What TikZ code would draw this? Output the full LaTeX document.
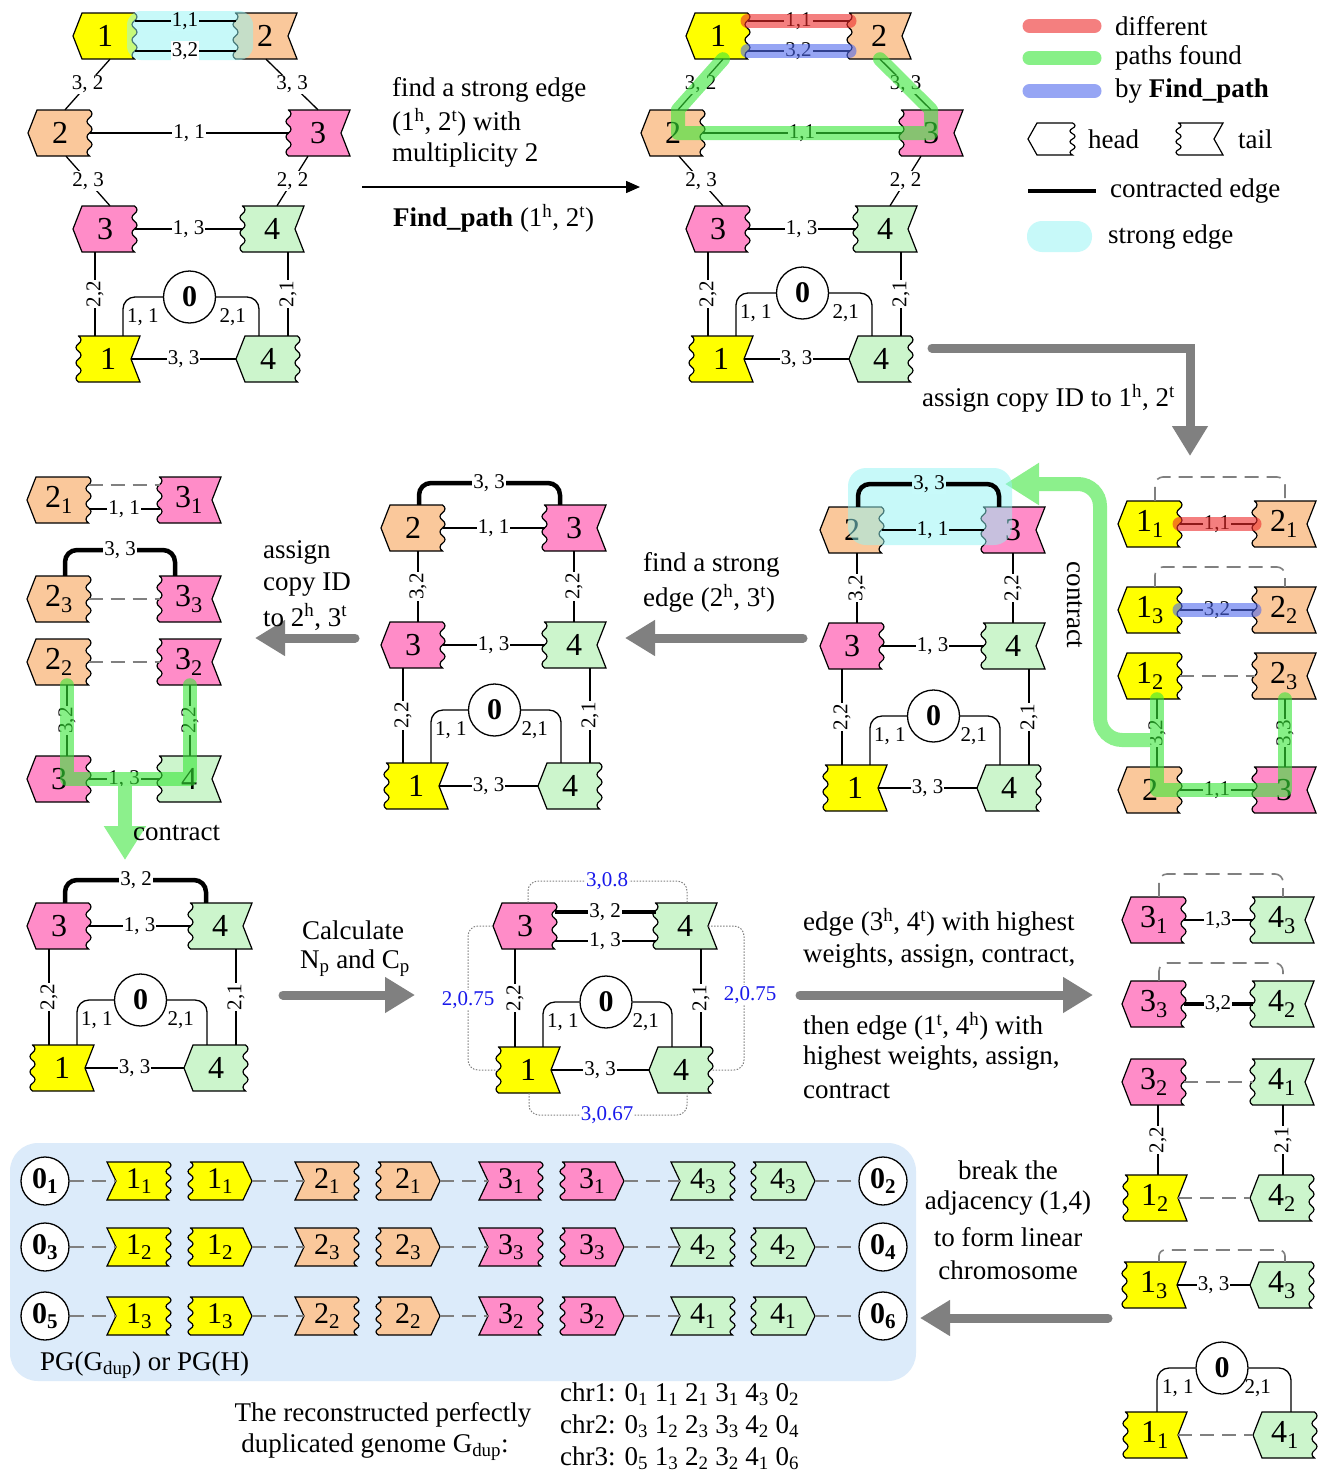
\documentclass[tikz,border=0pt]{standalone}
\usepackage{fontspec}
\setmainfont{Liberation Serif}
\usetikzlibrary{arrows.meta}
\definecolor{cyel}{RGB}{255,255,0}
\definecolor{cora}{RGB}{250,200,155}
\definecolor{cpink}{RGB}{255,140,200}
\definecolor{cgreen}{RGB}{204,245,204}
\definecolor{pgbg}{RGB}{220,235,250}
\definecolor{hred}{RGB}{238,43,43}
\definecolor{hgreen}{RGB}{55,230,55}
\definecolor{hblue}{RGB}{80,105,238}
\definecolor{hcyan}{RGB}{145,245,245}
\definecolor{cyanres}{RGB}{200,250,250}
\definecolor{dgrey}{RGB}{128,128,128}
\definecolor{agrey}{RGB}{128,128,128}
\definecolor{garr}{RGB}{140,240,140}
\definecolor{tblue}{RGB}{25,25,235}
\newcommand\nfont{\fontsize{32}{32}\selectfont}
\newcommand\pfont{\fontsize{30}{30}\selectfont}
\newcommand\efont{\fontsize{21}{21}\selectfont}
\newcommand\tfont{\fontsize{27}{27}\selectfont}
\newcommand\zfont{\fontsize{30}{30}\selectfont\bfseries}
\newcommand\mysub[1]{\textsubscript{#1}}
\newcommand\mysup[1]{\textsuperscript{#1}}
\def\GSd{9}\def\GSa{2.5}\def\GSc{3.3}
\def\GSwu{.. controls +(-\GSc,-\GSk) and +(-\GSc,\GSk) .. ++(0,-\GSs) .. controls +(\GSc,-\GSk) and +(\GSc,\GSk) .. ++(0,-\GSs) }
\def\GSwd{.. controls +(\GSc,\GSk) and +(\GSc,-\GSk) .. ++(0,\GSs) .. controls +(-\GSc,\GSk) and +(-\GSc,-\GSk) .. ++(0,\GSs) }
\newcommand\gshape[7]{%
 \pgfmathsetmacro\GSx{#1}\pgfmathsetmacro\GSy{#2}%
 \pgfmathsetmacro\GSW{#6}\pgfmathsetmacro\GSH{#7}%
 \pgfmathsetmacro\GSs{#7/3}\pgfmathsetmacro\GSk{#7/10}%
 \if#3p\pgfmathsetmacro\GSxa{\GSx-\GSW+\GSd}\pgfmathsetmacro\GSlx{\GSx-\GSW}\def\GSL{-- ++(-\GSd,-\GSH) -- ++(\GSd,-\GSH)}\fi
 \if#3n\pgfmathsetmacro\GSxa{\GSx-\GSW}\pgfmathsetmacro\GSlx{\GSx-\GSW+\GSd}\def\GSL{-- ++(\GSd,-\GSH) -- ++(-\GSd,-\GSH)}\fi
 \if#3w\pgfmathsetmacro\GSxa{\GSx-\GSW+\GSa}\pgfmathsetmacro\GSlx{\GSx-\GSW+\GSa}\def\GSL{\GSwu\GSwu\GSwu}\fi
 \if#4p\pgfmathsetmacro\GSxb{\GSx+\GSW-\GSd}\pgfmathsetmacro\GSrx{\GSx+\GSW}\def\GSR{-- ++(\GSd,\GSH) -- ++(-\GSd,\GSH)}\fi
 \if#4n\pgfmathsetmacro\GSxb{\GSx+\GSW}\pgfmathsetmacro\GSrx{\GSx+\GSW-\GSd}\def\GSR{-- ++(-\GSd,\GSH) -- ++(\GSd,\GSH)}\fi
 \if#4w\pgfmathsetmacro\GSxb{\GSx+\GSW-\GSa}\pgfmathsetmacro\GSrx{\GSx+\GSW-\GSa}\def\GSR{\GSwd\GSwd\GSwd}\fi
 \path[draw,line width=1.2pt,line join=miter,fill=#5] (\GSxa,\GSy-\GSH) -- (\GSxb,\GSy-\GSH) \GSR -- (\GSxa,\GSy+\GSH) \GSL -- cycle;%
}
\newcommand\gn[7]{%
 \gshape{#2}{#3}{#4}{#5}{#6}{32}{23}%
 \node[gtext,minimum width=64pt,minimum height=46pt] (#1) at (\GSx,\GSy) {#7};%
 \coordinate (#1-l) at (\GSlx,\GSy);%
 \coordinate (#1-r) at (\GSrx,\GSy);%
}
\newcommand\pgn[7]{%
 \gshape{#2}{#3}{#4}{#5}{#6}{32}{19}%
 \node[ptext,minimum width=64pt,minimum height=38pt] (#1) at (\GSx,\GSy) {#7};%
 \coordinate (#1-l) at (\GSlx,\GSy);%
 \coordinate (#1-r) at (\GSrx,\GSy);%
}
\newcommand\lowerg[7]{%
 \gn{#1-3}{#2}{#4}{p}{w}{cpink}{3}%
 \gn{#1-4}{#3}{#4}{w}{n}{cgreen}{4}%
 \gn{#1-1}{#2+3}{#5}{w}{n}{cyel}{1}%
 \gn{#1-4b}{#3-4}{#5}{p}{w}{cgreen}{4}%
 \node[zeronode] (#1-0) at ({(#2+#3)/2+1},#6) {0};%
 \draw[eln] ([yshift=#7]#1-3-r) -- node[elab]{1, 3} ([yshift=#7]#1-4-l);%
 \draw[eln] ([xshift=-10pt]#1-3.south) -- node[elab,rotate=90]{2,2} ([xshift=-13pt]#1-1.north);%
 \draw[eln] ([xshift=16pt]#1-4.south) -- node[elab,rotate=90]{2,1} ([xshift=20pt]#1-4b.north);%
 \draw[eln,rounded corners=12pt] (#1-0.west) -| ([xshift=15pt]#1-1.north);%
 \draw[eln,rounded corners=12pt] (#1-0.east) -| ([xshift=-9pt]#1-4b.north);%
 \node[elabp,anchor=north west] (#1-l11) at (#2+21,#6+10) {1, 1};%
 \node[elabp,anchor=north east] (#1-l21) at (#3-25,#6+10) {2,1};%
 \draw[eln] (#1-1-r) -- node[elab]{3, 3} (#1-4b-l);%
}
\newcommand\pgrow[8]{%
 \node[zeropg] (#1z0) at (45,#2) {0\mysub{#3}};%
 \pgn{#1t1}{139}{#2}{n}{w}{cyel}{1\mysub{#4}}%
 \pgn{#1h1}{220}{#2}{w}{p}{cyel}{1\mysub{#4}}%
 \pgn{#1t2}{327}{#2}{n}{w}{cora}{2\mysub{#5}}%
 \pgn{#1h2}{408}{#2}{w}{p}{cora}{2\mysub{#5}}%
 \pgn{#1t3}{511}{#2}{n}{w}{cpink}{3\mysub{#6}}%
 \pgn{#1h3}{592}{#2}{w}{p}{cpink}{3\mysub{#6}}%
 \pgn{#1t4}{703}{#2}{n}{w}{cgreen}{4\mysub{#7}}%
 \pgn{#1h4}{783}{#2}{w}{p}{cgreen}{4\mysub{#7}}%
 \node[zeropg] (#1z1) at (883,#2) {0\mysub{#8}};%
 \draw[gdash] (#1z0.east) -- (#1t1-l);%
 \draw[gdash] (#1h1-r) -- (#1t2-l);%
 \draw[gdash] (#1h2-r) -- (#1t3-l);%
 \draw[gdash] (#1h3-r) -- (#1t4-l);%
 \draw[gdash] (#1h4-r) -- (#1z1.west);%
}
\begin{document}
\begin{tikzpicture}[x=1pt,y=-1pt,
 eln/.style={line width=1.3pt},
 celn/.style={line width=4.5pt},
 elab/.style={fill=white,inner sep=1pt,font=\efont},
 elabp/.style={inner sep=1pt,font=\efont},
 blab/.style={fill=white,inner sep=1pt,font=\efont,text=tblue},
 gdash/.style={draw=dgrey,line width=1.6pt,dash pattern=on 14pt off 8pt},
 gdot/.style={draw=dgrey,line width=1pt,dash pattern=on 1.5pt off 1.5pt,rounded corners=10pt},
 hlr/.style={draw=hred,line width=14pt,line cap=round,line join=round,opacity=0.6},
 hlg/.style={draw=hgreen,line width=14pt,line cap=round,line join=round,opacity=0.6},
 hlb/.style={draw=hblue,line width=14pt,line cap=round,line join=round,opacity=0.6},
 cyanbox/.style={fill=hcyan,opacity=0.5},
 gtext/.style={inner sep=0pt,font=\nfont},
 ptext/.style={inner sep=0pt,font=\pfont},
 zeronode/.style={circle,draw,fill=white,line width=1.3pt,minimum size=52pt,inner sep=0pt,font=\zfont},
 zeropg/.style={circle,draw,fill=white,line width=1.3pt,minimum size=48pt,inner sep=0pt,font=\zfont},
 txt/.style={font=\tfont,inner sep=0pt,anchor=west},
 ctxt/.style={font=\tfont,inner sep=0pt},
 garrow/.style={draw=agrey,line width=9pt,line cap=round,line join=miter,-{Triangle[length=30pt,width=34pt]}},
 grarrow/.style={draw=garr,line width=14pt,rounded corners=22pt,-{Triangle[length=34pt,width=40pt]}},
 barrow/.style={draw=black,line width=1.5pt,-{Triangle[length=14pt,width=12pt]}},
]
\useasboundingbox (0,0) rectangle (1323,1476);
\fill[white] (0,0) rectangle (1323,1476);

% ================= Panel 1 =================
\gn{p1a}{105}{36}{p}{w}{cyel}{1}
\gn{p1b}{265}{36}{w}{n}{cora}{2}
\gn{p1c}{60}{133}{p}{w}{cora}{2}
\gn{p1d}{318}{133}{w}{n}{cpink}{3}
\lowerg{p1}{105}{272}{229}{359}{297}{0pt}
\fill[cyanbox,rounded corners=14pt] (127,11) rectangle (253,60);
\draw[eln] ([yshift=15pt]p1a-r) -- node[elab,fill=cyanres]{1,1} ([yshift=15pt]p1b-l);
\draw[eln] ([yshift=-15pt]p1a-r) -- node[elab]{3,2} ([yshift=-15pt]p1b-l);
\draw[eln] ([xshift=5pt]p1a.south) -- node[elab]{3, 2} ([xshift=5pt]p1c.north);
\draw[eln] ([xshift=1pt]p1b.south) -- node[elab]{3, 3} (p1d.north);
\draw[eln] (p1c-r) -- node[elab]{1, 1} (p1d-l);
\draw[eln] ([xshift=6pt]p1c.south) -- node[elab]{2, 3} ([xshift=5pt]p1-3.north);
\draw[eln] ([xshift=-10pt]p1d.south) -- node[elab]{2, 2} ([xshift=5pt]p1-4.north);

% ================= Panel 2 =================
\gn{p2a}{718}{36}{p}{w}{cyel}{1}
\gn{p2b}{879}{36}{w}{n}{cora}{2}
\gn{p2c}{673}{133}{p}{w}{cora}{2}
\gn{p2d}{931}{133}{w}{n}{cpink}{3}
\lowerg{p2}{718}{885}{229}{359}{293}{0pt}
\draw[eln] ([yshift=15pt]p2a-r) -- node[elab]{1,1} ([yshift=15pt]p2b-l);
\draw[eln] ([yshift=-15pt]p2a-r) -- node[elab]{3,2} ([yshift=-15pt]p2b-l);
\draw[eln] ([xshift=5pt]p2a.south) -- node[elab]{3, 2} ([xshift=5pt]p2c.north);
\draw[eln] ([xshift=1pt]p2b.south) -- node[elab]{3, 3} (p2d.north);
\draw[eln] (p2c-r) -- node[elab]{1,1} (p2d-l);
\draw[eln] ([xshift=6pt]p2c.south) -- node[elab]{2, 3} ([xshift=5pt]p2-3.north);
\draw[eln] ([xshift=-10pt]p2d.south) -- node[elab]{2, 2} ([xshift=5pt]p2-4.north);
\draw[hlr] ([yshift=15pt]p2a-r) -- ([yshift=15pt]p2b-l);
\draw[hlb] ([yshift=-15pt]p2a-r) -- ([yshift=-15pt]p2b-l);
\draw[hlg] ([xshift=5pt]p2a.south) -- ([xshift=5pt]p2c.north) -- ([xshift=5pt]p2c.center) -- (p2d.center) -- (p2d.north) -- ([xshift=1pt]p2b.south);

% ================= Legend =================
\draw[hlr] (1029.5,26) -- (1094.5,26);
\draw[hlg] (1029.5,58) -- (1094.5,58);
\draw[hlb] (1029.5,91) -- (1094.5,91);
\node[txt] (lg1) at (1115,26) {different};
\node[txt] (lg2) at (1115,58) {paths found};
\node[txt] (lg3) at (1115,91) {by \textbf{Find\_path}};
\gshape{1051.5}{139}{p}{w}{white}{23.5}{16}
\node[txt] (lg4) at (1088,139) {head};
\gshape{1199.5}{139}{w}{n}{white}{23.5}{16}
\node[txt] (lg5) at (1238,139) {tail};
\draw[line width=4.5pt] (1028,191) -- (1096,191);
\node[txt] (lg6) at (1110,191) {contracted edge};
\fill[cyanbox,rounded corners=15pt] (1027,221) rectangle (1092,252);
\node[txt] (lg7) at (1108,237) {strong edge};

% ================= Top text and arrows =================
\node[txt] (tt1) at (392,90) {find a strong edge};
\node[txt] (tt2) at (392,122) {(1\mysup{h}, 2\mysup{t}) with};
\node[txt] (tt3) at (392,155) {multiplicity 2};
\node[txt] (tt4) at (393,218) {\textbf{Find\_path} (1\mysup{h}, 2\mysup{t})};
\coordinate (ba1s) at (362,187);
\coordinate (ba1e) at (640,187);
\draw[barrow] (ba1s) -- (ba1e);
\coordinate (a1s) at (932,348);
\coordinate (a1e) at (1190,456);
\draw[garrow] (a1s) -| (a1e);
\node[txt] (ta1) at (922,398) {assign copy ID to 1\mysup{h}, 2\mysup{t}};

% ================= Row 2 right (d) =================
\gn{r2d1}{1150}{524}{p}{w}{cyel}{1\mysub{1}}
\gn{r2d2}{1284}{524}{w}{n}{cora}{2\mysub{1}}
\gn{r2d3}{1150}{610}{p}{w}{cyel}{1\mysub{3}}
\gn{r2d4}{1284}{610}{w}{n}{cora}{2\mysub{2}}
\gn{r2d5}{1150}{676}{p}{w}{cyel}{1\mysub{2}}
\gn{r2d6}{1284}{676}{w}{n}{cora}{2\mysub{3}}
\gn{r2d7}{1150}{790}{p}{w}{cora}{2}
\gn{r2d8}{1284}{790}{w}{n}{cpink}{3}
\coordinate (r2dA) at (1220,477);
\draw[gdash,rounded corners=8pt] ([xshift=5pt]r2d1.north) |- (r2dA) -| ([xshift=1pt]r2d2.north);
\draw[eln] (r2d1-r) -- node[elab]{1,1} (r2d2-l);
\coordinate (r2dB) at (1220,567);
\draw[gdash,rounded corners=8pt] ([xshift=5pt]r2d3.north) |- (r2dB) -| ([xshift=1pt]r2d4.north);
\draw[eln] (r2d3-r) -- node[elab]{3,2} (r2d4-l);
\draw[gdash] (r2d5-r) -- (r2d6-l);
\draw[eln] ([xshift=7pt]r2d5.south) -- node[elab,rotate=90]{3,2} ([xshift=7pt]r2d7.north);
\draw[eln] ([xshift=1pt]r2d6.south) -- node[elab,rotate=90]{3,3} ([xshift=1pt]r2d8.north);
\draw[eln] (r2d7-r) -- node[elab]{1,1} (r2d8-l);
\draw[hlr] (r2d1-r) -- (r2d2-l);
\draw[hlb] (r2d3-r) -- (r2d4-l);
\draw[hlg] ([xshift=7pt]r2d5.south) -- ([xshift=7pt]r2d7.center) -- ([xshift=1pt]r2d8.center) -- ([xshift=1pt]r2d6.south);
\coordinate (ga1s) at (1150,740);
\coordinate (ga1m) at (1100,600);
\coordinate (ga1e) at (1005,484);
\draw[grarrow] (ga1s) -| (ga1m) |- (ga1e);
\node[ctxt,rotate=-90] (contr1) at (1075,605) {contract};

% ================= Row 2 (c) =================
\gn{r2c1}{852}{530}{p}{w}{cora}{2}
\gn{r2c2}{1013}{530}{w}{n}{cpink}{3}
\lowerg{r2c}{852}{1013}{646}{788}{716}{0pt}
\fill[cyanbox,rounded corners=18pt] (848,468) rectangle (1012,545);
\draw[eln] (r2c1-r) -- node[elab,fill=cyanres]{1, 1} (r2c2-l);
\coordinate (r2cT) at (929,484);
\draw[celn,rounded corners=12pt] ([xshift=6pt]r2c1.north) |- (r2cT) -| ([xshift=-14pt]r2c2.north);
\node[elab,fill=cyanres] (r2cTl) at (r2cT) {3, 3};
\draw[eln] ([xshift=5pt]r2c1.south) -- node[elab,rotate=90]{3,2} ([xshift=5pt]r2c-3.north);
\draw[eln] (r2c2.south) -- node[elab,rotate=90]{2,2} (r2c-4.north);

% ================= Row 2 (b) =================
\gn{r2b1}{413}{528}{p}{w}{cora}{2}
\gn{r2b2}{574}{528}{w}{n}{cpink}{3}
\lowerg{r2b}{413}{574}{645}{786}{710}{0pt}
\draw[eln] (r2b1-r) -- node[elab]{1, 1} (r2b2-l);
\coordinate (r2bT) at (489,483);
\draw[celn,rounded corners=12pt] ([xshift=6pt]r2b1.north) |- (r2bT) -| ([xshift=-14pt]r2b2.north);
\node[elab] (r2bTl) at (r2bT) {3, 3};
\draw[eln] ([xshift=5pt]r2b1.south) -- node[elab,rotate=90]{3,2} ([xshift=5pt]r2b-3.north);
\draw[eln] (r2b2.south) -- node[elab,rotate=90]{2,2} (r2b-4.north);
\coordinate (a2s) at (803,638);
\coordinate (a2e) at (625,638);
\draw[garrow] (a2s) -- (a2e);
\node[txt] (ta2a) at (643,565) {find a strong};
\node[txt] (ta2b) at (643,598) {edge (2\mysup{h}, 3\mysup{t})};

% ================= Row 2 (a) =================
\gn{r2a1}{59}{500}{p}{w}{cora}{2\mysub{1}}
\gn{r2a2}{189}{500}{w}{n}{cpink}{3\mysub{1}}
\gn{r2a3}{59}{599}{p}{w}{cora}{2\mysub{3}}
\gn{r2a4}{189}{599}{w}{n}{cpink}{3\mysub{3}}
\gn{r2a5}{59}{662}{p}{w}{cora}{2\mysub{2}}
\gn{r2a6}{189}{662}{w}{n}{cpink}{3\mysub{2}}
\gn{r2a7}{59}{779}{p}{w}{cpink}{3}
\gn{r2a8}{189}{779}{w}{n}{cgreen}{4}
\draw[gdash] ([yshift=15pt]r2a1-r) -- ([yshift=15pt]r2a2-l);
\draw[eln] ([yshift=-9pt]r2a1-r) -- node[elab]{1, 1} ([yshift=-9pt]r2a2-l);
\coordinate (r2aT) at (120,550);
\draw[celn,rounded corners=12pt] ([xshift=6pt]r2a3.north) |- (r2aT) -| ([xshift=-14pt]r2a4.north);
\node[elab] (r2aTl) at (r2aT) {3, 3};
\draw[gdash] (r2a3-r) -- (r2a4-l);
\draw[gdash] (r2a5-r) -- (r2a6-l);
\draw[eln] ([xshift=8pt]r2a5.south) -- node[elab,rotate=90]{3,2} ([xshift=8pt]r2a7.north);
\draw[eln] ([xshift=1pt]r2a6.south) -- node[elab,rotate=90]{2,2} ([xshift=1pt]r2a8.north);
\draw[eln] (r2a7-r) -- node[elab]{1, 3} (r2a8-l);
\draw[hlg] ([xshift=8pt]r2a5.south) -- ([xshift=8pt]r2a7.center) -- ([xshift=1pt]r2a8.center) -- ([xshift=1pt]r2a6.south);
\coordinate (ga2s) at (125,786);
\coordinate (ga2e) at (125,860);
\draw[grarrow] (ga2s) -- (ga2e);
\node[txt] (contr2) at (133,833) {contract};
\coordinate (a3s) at (355,638);
\coordinate (a3e) at (255,638);
\draw[garrow] (a3s) -- (a3e);
\node[txt] (ta3a) at (263,552) {assign};
\node[txt] (ta3b) at (263,585) {copy ID};
\node[txt] (ta3c) at (263,617) {to 2\mysup{h}, 3\mysup{t}};

% ================= Row 3 (a) =================
\lowerg{r3a}{59}{220}{926}{1068}{1000}{0pt}
\coordinate (r3aT) at (136,880);
\draw[celn,rounded corners=12pt] ([xshift=6pt]r3a-3.north) |- (r3aT) -| ([xshift=-14pt]r3a-4.north);
\node[elab] (r3aTl) at (r3aT) {3, 2};
\coordinate (a4s) at (283,995);
\coordinate (a4e) at (415,995);
\draw[garrow] (a4s) -- (a4e);
\node[ctxt] (ta4a) at (353,930) {Calculate};
\node[ctxt] (ta4b) at (355,963) {N\mysub{p} and C\mysub{p}};

% ================= Row 3 (b) =================
\lowerg{r3b}{525}{685}{926}{1070}{1002}{-15pt}
\draw[celn] ([yshift=14pt]r3b-3-r) -- node[elab]{3, 2} ([yshift=14pt]r3b-4-l);
\coordinate (r3bTc) at (607,881);
\draw[gdot] ([xshift=3pt]r3b-3.north) |- (r3bTc) -| ([xshift=2pt]r3b-4.north);
\node[blab] (r3bT) at (r3bTc) {3,0.8};
\coordinate (r3bLc) at (468,1000);
\draw[gdot] (r3b-3-l) -| (r3bLc) |- (r3b-1-l);
\node[blab] (r3bL) at (r3bLc) {2,0.75};
\coordinate (r3bRc) at (744,995);
\draw[gdot] (r3b-4-r) -| (r3bRc) |- (r3b-4b-r);
\node[blab] (r3bR) at (750,995) {2,0.75};
\coordinate (r3bBc) at (607,1115);
\draw[gdot] ([xshift=1pt]r3b-1.south) |- (r3bBc) -| ([xshift=6pt]r3b-4b.south);
\node[blab] (r3bB) at (r3bBc) {3,0.67};
\coordinate (a5s) at (800,995);
\coordinate (a5e) at (1093,995);
\draw[garrow] (a5s) -- (a5e);
\node[txt] (ta5a) at (803,922) {edge (3\mysup{h}, 4\mysup{t}) with highest};
\node[txt] (ta5b) at (803,956) {weights, assign, contract,};
\node[txt] (ta5c) at (803,1026) {then edge (1\mysup{t}, 4\mysup{h}) with};
\node[txt] (ta5d) at (803,1058) {highest weights, assign,};
\node[txt] (ta5e) at (803,1091) {contract};

% ================= Row 3 (c) =================
\gn{r3c1}{1154}{920}{p}{w}{cpink}{3\mysub{1}}
\gn{r3c2}{1282}{920}{w}{n}{cgreen}{4\mysub{3}}
\gn{r3c3}{1154}{1004}{p}{w}{cpink}{3\mysub{3}}
\gn{r3c4}{1282}{1004}{w}{n}{cgreen}{4\mysub{2}}
\gn{r3c5}{1154}{1082}{p}{w}{cpink}{3\mysub{2}}
\gn{r3c6}{1282}{1082}{w}{n}{cgreen}{4\mysub{1}}
\gn{r3c7}{1155}{1198}{w}{n}{cyel}{1\mysub{2}}
\gn{r3c8}{1282}{1198}{p}{w}{cgreen}{4\mysub{2}}
\gn{r3c9}{1154}{1285}{w}{n}{cyel}{1\mysub{3}}
\gn{r3c10}{1282}{1285}{p}{w}{cgreen}{4\mysub{3}}
\gn{r3c11}{1155}{1435}{w}{n}{cyel}{1\mysub{1}}
\gn{r3c12}{1285}{1435}{p}{w}{cgreen}{4\mysub{1}}
\coordinate (r3cA) at (1220,874);
\draw[gdash,rounded corners=8pt] ([xshift=5pt]r3c1.north) |- (r3cA) -| ([xshift=1pt]r3c2.north);
\draw[eln] (r3c1-r) -- node[elab]{1,3} (r3c2-l);
\coordinate (r3cB) at (1220,963);
\draw[gdash,rounded corners=8pt] ([xshift=5pt]r3c3.north) |- (r3cB) -| ([xshift=1pt]r3c4.north);
\draw[celn] (r3c3-r) -- node[elab]{3,2} (r3c4-l);
\draw[gdash] (r3c5-r) -- (r3c6-l);
\draw[eln] ([xshift=4pt]r3c5.south) -- node[elab,rotate=90]{2,2} ([xshift=3pt]r3c7.north);
\draw[eln] ([xshift=1pt]r3c6.south) -- node[elab,rotate=90]{2,1} ([xshift=1pt]r3c8.north);
\draw[gdash] (r3c7-r) -- (r3c8-l);
\coordinate (r3cC) at (1220,1250);
\draw[gdash,rounded corners=6pt] ([xshift=5pt]r3c9.north) |- (r3cC) -| ([xshift=3pt]r3c10.north);
\draw[eln] (r3c9-r) -- node[elab]{3, 3} (r3c10-l);
\node[zeronode] (r3c0) at (1222,1368) {0};
\draw[eln,rounded corners=12pt] (r3c0.west) -| ([xshift=2pt]r3c11.north);
\draw[eln,rounded corners=12pt] (r3c0.east) -| ([xshift=6pt]r3c12.north);
\node[elabp,anchor=north west] (r3cl11) at (1161,1378) {1, 1};
\node[elabp,anchor=north east] (r3cl21) at (1272,1378) {2,1};
\draw[gdash] (r3c11-r) -- (r3c12-l);
\coordinate (a6s) at (1108,1318);
\coordinate (a6e) at (920,1318);
\draw[garrow] (a6s) -- (a6e);
\node[ctxt] (ta6a) at (1008,1170) {break the};
\node[ctxt] (ta6b) at (1008,1203) {adjacency (1,4)};
\node[ctxt] (ta6c) at (1008,1237) {to form linear};
\node[ctxt] (ta6d) at (1008,1270) {chromosome};

% ================= PG =================
\fill[pgbg,rounded corners=28pt] (10,1143) rectangle (916,1381);
\pgrow{ra}{1181}{1}{1}{1}{1}{3}{2}
\pgrow{rb}{1247}{3}{2}{3}{3}{2}{4}
\pgrow{rc}{1316}{5}{3}{2}{2}{1}{6}
\node[txt] (pglab) at (40,1365) {PG(G\mysub{dup}) or PG(H)};
\node[ctxt] (bt1) at (383,1415) {The reconstructed perfectly};
\node[ctxt] (bt2) at (375,1447) {duplicated genome G\mysub{dup}:};
\node[txt] (chr1) at (560,1394) {chr1: 0\mysub{1} 1\mysub{1} 2\mysub{1} 3\mysub{1} 4\mysub{3} 0\mysub{2}};
\node[txt] (chr2) at (560,1426) {chr2: 0\mysub{3} 1\mysub{2} 2\mysub{3} 3\mysub{3} 4\mysub{2} 0\mysub{4}};
\node[txt] (chr3) at (560,1458) {chr3: 0\mysub{5} 1\mysub{3} 2\mysub{2} 3\mysub{2} 4\mysub{1} 0\mysub{6}};
\end{tikzpicture}
\end{document}
